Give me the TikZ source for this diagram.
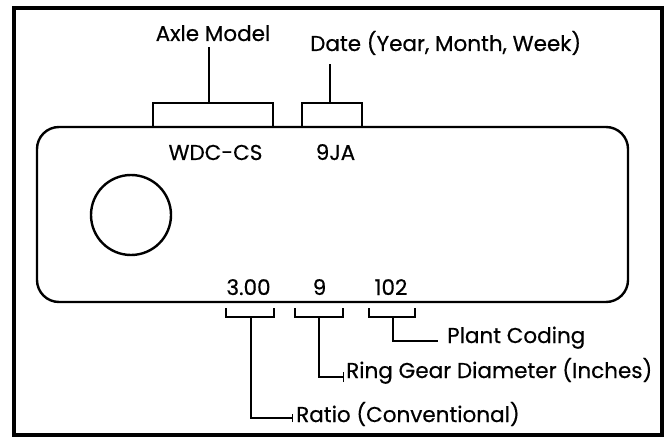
\documentclass[tikz,border=0pt]{standalone}
\usepackage{fontspec}
\setmainfont{Poppins}
\newfontfamily\lblfont{Poppins}[UprightFeatures={FakeBold=0.5}]
\begin{document}
\begin{tikzpicture}[x=1pt,y=-1pt,
  lbl/.style={inner sep=0pt,font=\lblfont\fontsize{21.5}{26}\selectfont},
  frame/.style={line width=3.6pt},
  plate/.style={line width=2.4pt,rounded corners=22pt},
  brk/.style={line width=2pt,line join=miter}]
\useasboundingbox (0,0) rectangle (666,438);
\draw[frame] (14,8) rectangle (662,435);
\draw[plate] (37,127) rectangle (628,302);
\draw[line width=2.4pt] (131,215) circle[radius=40];
% texts
\node[lbl,anchor=base] (axle) at (213,41) {Axle Model};
\node[lbl,anchor=base west] (date) at (310,51) {Date (Year, Month, Week)};
\node[lbl,anchor=base] (wdc) at (215.5,160) {WDC-CS};
\node[lbl,anchor=base] (nja) at (335.5,160) {9JA};
\node[lbl,anchor=base] (ratio) at (248.5,295) {3.00};
\node[lbl,anchor=base] (nine) at (319.5,295) {9};
\node[lbl,anchor=base] (plant) at (391,295) {102};
\node[lbl,anchor=base west] (plantl) at (447,343) {Plant Coding};
\node[lbl,anchor=base west] (ringl) at (346,378) {Ring Gear Diameter (Inches)};
\node[lbl,anchor=base west] (ratiol) at (296,422) {Ratio (Conventional)};
% coordinates
\coordinate (a1) at (153,127); \coordinate (a2) at (273,127);
\coordinate (ab) at (209,103); \coordinate (at) at (209,47);
\coordinate (d1) at (302,127); \coordinate (d2) at (362,127);
\coordinate (db) at (330,103); \coordinate (dt) at (330,64);
\coordinate (r1) at (226,308); \coordinate (r2) at (274,308);
\coordinate (rb) at (251,317); \coordinate (re) at (292,418);
\coordinate (g1) at (295,308); \coordinate (g2) at (343,308);
\coordinate (gb) at (319,317); \coordinate (ge) at (343,377);
\coordinate (p1) at (369,308); \coordinate (p2) at (415,308);
\coordinate (pb) at (393,317); \coordinate (pe) at (438,341);
% brackets
\draw[brk] (a1) |- (ab) -| (a2);
\draw[brk] (ab) -- (at);
\draw[brk] (d1) |- (db) -| (d2);
\draw[brk] (db) -- (dt);
\draw[brk] (r1) |- (rb) -| (r2);
\draw[brk] (rb) |- (re);
\draw[line width=1pt] ([yshift=-4pt]re) -- ([yshift=4pt]re);
\draw[brk] (g1) |- (gb) -| (g2);
\draw[brk] (gb) |- (ge);
\draw[line width=1pt] ([yshift=-5pt]ge) -- ([yshift=5pt]ge);
\draw[brk] (p1) |- (pb) -| (p2);
\draw[brk] (pb) |- (pe);
\end{tikzpicture}
\end{document}
